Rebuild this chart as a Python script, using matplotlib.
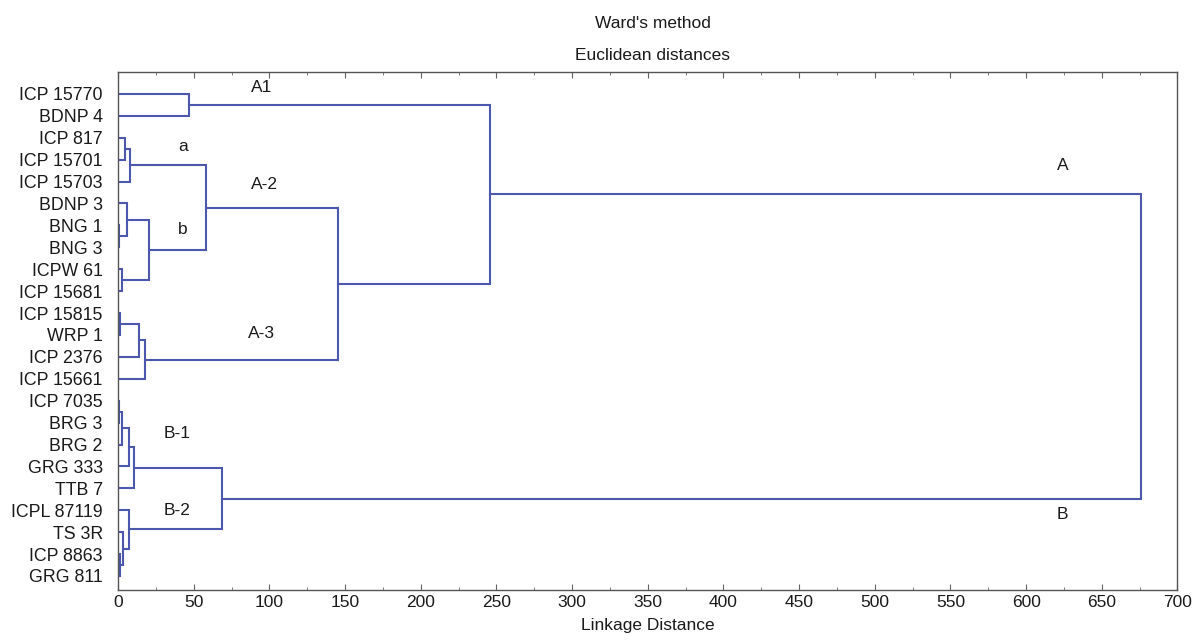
import matplotlib.pyplot as plt
from matplotlib.ticker import MultipleLocator

plt.rcParams['font.family'] = ['Liberation Sans', 'DejaVu Sans']

labels = ['ICP 15770', 'BDNP 4', 'ICP 817', 'ICP 15701', 'ICP 15703', 'BDNP 3',
          'BNG 1', 'BNG 3', 'ICPW 61', 'ICP 15681', 'ICP 15815', 'WRP 1',
          'ICP 2376', 'ICP 15661', 'ICP 7035', 'BRG 3', 'BRG 2', 'GRG 333',
          'TTB 7', 'ICPL 87119', 'TS 3R', 'ICP 8863', 'GRG 811']

# merges: (child a, child b, linkage distance); new node id = len(labels) + index
merge_a = [6, 2, 24, 5, 8, 26, 25, 10, 30, 31, 29, 0, 34, 14, 36, 37, 38, 21, 20, 19, 39, 35]
merge_b = [7, 3, 4, 23, 9, 27, 28, 11, 12, 13, 32, 1, 33, 15, 16, 17, 18, 22, 40, 41, 42, 43]
heights = [0.5, 4.5, 8, 6, 2.5, 20.5, 58, 1.3, 14, 18, 145, 47, 246,
           0.7, 2.6, 7.5, 10.8, 1.3, 3.5, 7.5, 68.5, 676]

group_names = ['A1', 'a', 'A-2', 'b', 'A-3', 'A', 'B-1', 'B-2', 'B']
group_x = [95, 43, 97, 43, 95, 624, 39, 39, 624]
group_y = [-0.3, 2.4, 4.15, 6.2, 10.95, 3.25, 15.5, 19.0, 19.2]

line_color = '#4b58ad'
text_color = '#1a1a1a'

fig = plt.figure(figsize=(11.93, 6.43), dpi=100)
ax = fig.add_axes([0.099, 0.0824, 0.888, 0.8056])

pos = {i: (0.0, float(i)) for i in range(len(labels))}
n = len(labels)
for k, (a, b, h) in enumerate(zip(merge_a, merge_b, heights)):
    xa, ya = pos[a]
    xb, yb = pos[b]
    ax.plot([xa, h, h, xb], [ya, ya, yb, yb], color=line_color, lw=1.5,
            solid_joinstyle='miter')
    pos[n + k] = (h, (ya + yb) / 2)

for name, gx, gy in zip(group_names, group_x, group_y):
    ax.text(gx, gy, name, fontsize=12.5, ha='center', va='center', color=text_color)

ax.set_xlim(0, 700)
ax.set_ylim(22.64, -1.0)
ax.set_yticks(range(n))
ax.set_yticklabels(labels, fontsize=12.8, color=text_color)
ax.tick_params(axis='y', length=0, pad=11)
ax.xaxis.set_major_locator(MultipleLocator(50))
ax.xaxis.set_minor_locator(MultipleLocator(25))
ax.tick_params(axis='x', which='both', direction='in', top=True, labelsize=12.5,
               labelcolor=text_color, color='#666666')
ax.tick_params(axis='x', which='major', length=4)
ax.tick_params(axis='x', which='minor', length=2.5)
for sp in ax.spines.values():
    sp.set_color('#555555')
    sp.set_linewidth(1.0)

ax.set_xlabel('Linkage Distance', fontsize=12.5, color=text_color, labelpad=6)
fig.text(0.547, 0.964, "Ward's method", ha='center', va='center', fontsize=12.5, color=text_color)
fig.text(0.547, 0.914, 'Euclidean distances', ha='center', va='center', fontsize=12.5, color=text_color)

fig.savefig('out.png', dpi=100)
